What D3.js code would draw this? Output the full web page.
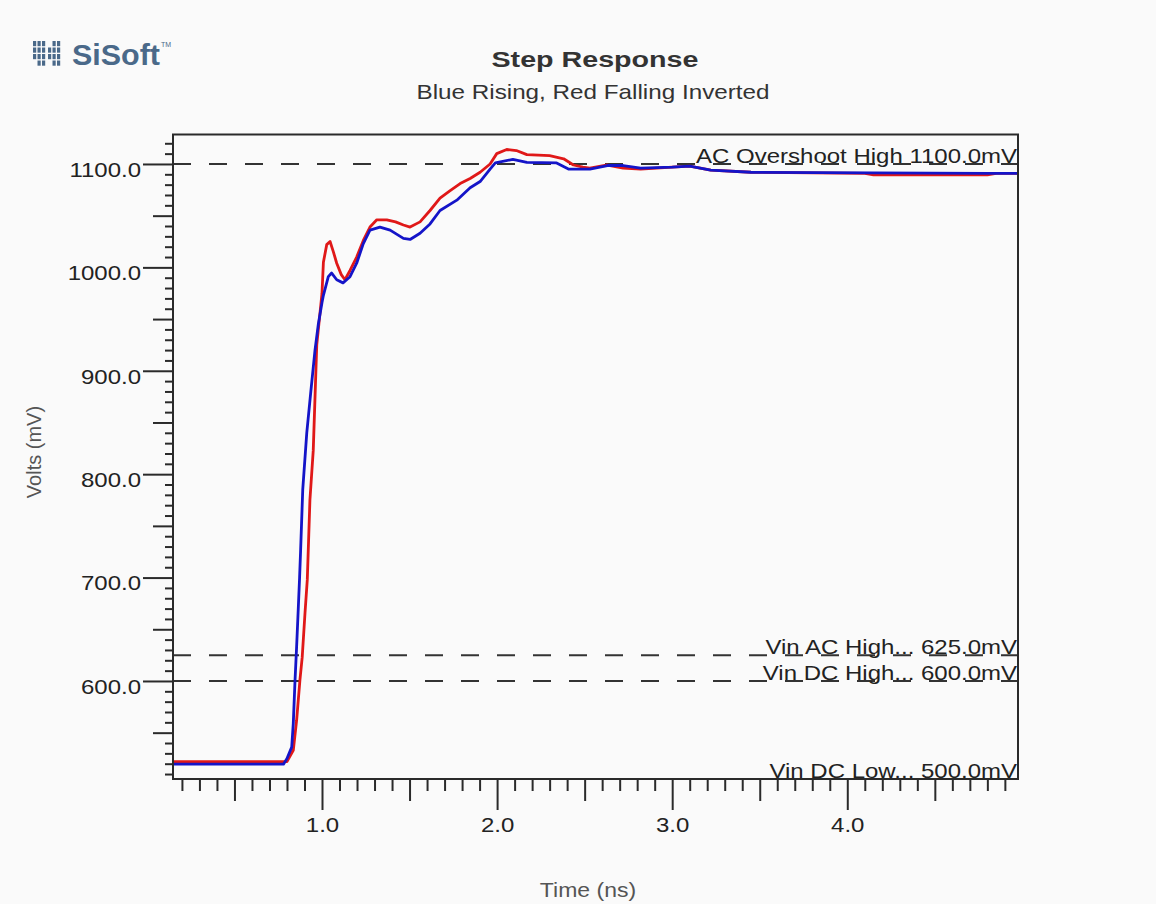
<!DOCTYPE html>
<html>
<head>
<meta charset="utf-8">
<script src="https://cdn.jsdelivr.net/npm/d3@7"></script>
<style>
	body { margin: 0; background: #fafafa; }
	svg { display: block; font-family: "Liberation Sans", Arial, sans-serif; }
</style>
</head>
<body>
<svg id="chart" width="1156" height="904"></svg>
<script>

// red trace (falling, inverted)
var aRedTime = [0.149, 0.74, 0.80, 0.836, 0.855, 0.874, 0.887, 0.903, 0.916, 0.931, 0.95, 0.97, 0.985, 1.0, 1.008, 1.027, 1.046, 1.065, 1.084, 1.11, 1.131, 1.16, 1.198, 1.236, 1.274, 1.313, 1.37, 1.42, 1.465, 1.503, 1.56, 1.617, 1.674, 1.73, 1.789, 1.846, 1.903, 1.96, 1.998, 2.055, 2.11, 2.17, 2.30, 2.38, 2.436, 2.49, 2.53, 2.63, 2.72, 2.82, 3.0, 3.1, 3.22, 3.45, 4.1, 4.15, 4.8, 4.85, 4.975];
var aRedMv   = [522, 522, 522, 533, 562, 601, 623, 666, 698, 775, 823, 925, 950, 975, 1005, 1022, 1025, 1015, 1004, 993, 988, 997, 1010, 1026, 1039, 1046, 1046, 1044, 1041, 1039, 1044, 1055, 1067, 1074, 1081, 1086, 1092, 1100, 1110, 1114, 1113, 1109, 1108, 1105, 1099, 1097, 1096, 1099, 1096, 1095, 1097, 1098, 1094, 1092, 1091, 1089.5, 1089.5, 1091, 1091];

// blue trace (rising)
var aBlueTime = [0.149, 0.78, 0.80, 0.827, 0.836, 0.846, 0.855, 0.865, 0.872, 0.878, 0.89, 0.913, 0.935, 0.96, 0.979, 1.0, 1.008, 1.036, 1.055, 1.084, 1.12, 1.16, 1.198, 1.236, 1.274, 1.331, 1.389, 1.465, 1.503, 1.56, 1.617, 1.674, 1.77, 1.846, 1.903, 1.96, 1.99, 2.09, 2.17, 2.34, 2.41, 2.53, 2.63, 2.72, 2.82, 3.0, 3.1, 3.22, 3.45, 4.8, 4.975];
var aBlueMv   = [519.5, 519.5, 525, 536, 559, 601, 633, 672, 700, 727, 785, 840, 878, 920, 945, 966, 973, 991, 994.5, 988, 985, 991, 1004, 1023, 1036, 1039, 1036, 1028, 1027, 1033, 1042, 1055, 1065, 1077, 1083, 1095, 1101, 1104.5, 1101.5, 1101, 1095, 1095, 1098.5, 1098.5, 1096, 1097, 1098, 1094, 1092, 1091, 1091];

// axes
var aXDomain = [0.149, 4.975];
var aYDomain = [505.2, 1128.5];
var aXMajor = [1.0, 2.0, 3.0, 4.0];
var aYMajor = [600, 700, 800, 900, 1000, 1100];

// reference levels
var aRefValues = [1100, 625, 600, 500];
var aRefLabels = ['AC Overshoot High 1100.0mV', 'Vin AC High... 625.0mV', 'Vin DC High... 600.0mV', 'Vin DC Low... 500.0mV'];

const strTitle = 'Step Response';
const strSubtitle = 'Blue Rising, Red Falling Inverted';


var sSvg = d3.select('#chart');

var nLeft = 173;
var nRight = 1018;
var nTop = 134.5;
var nBottom = 779;
var nChartWidth = nRight - nLeft;
var nChartHeight = nBottom - nTop;

// the original picture has its text a little wider than normal
const fStretch = 1.2;

function Stretch(sText, fK)
{
	sText.each(function()
		{
			var s = d3.select(this);
			var nX = +s.attr('x') || 0;
			s.attr('x', nX / fK)
				.attr('transform', 'scale(' + fK + ',1)');
		});
}

sSvg.append('rect')
	.attr('width', 1156)
	.attr('height', 904)
	.attr('fill', '#fafafa');

// logo
var sLogo = sSvg.append('g')
	.attr('fill', '#4a6989');

var aLogoCols = [33, 37.5, 42, 48, 52.5, 57];
var aLogoRows = [41, 47.5, 54, 60.5];
aLogoCols.forEach(function(nX, i)
	{
		aLogoRows.forEach(function(nY, j)
			{
				if ((i == 3 && (j == 0 || j == 3)) || (i == 0 && j == 3))
				{
					return;
				}
				sLogo.append('rect')
					.attr('x', nX)
					.attr('y', nY)
					.attr('width', 3.2)
					.attr('height', 5.2);
			});
	});

sLogo.append('text')
	.attr('x', 72)
	.attr('y', 65)
	.attr('font-size', 30)
	.attr('font-weight', 'bold')
	.attr('textLength', 88)
	.attr('lengthAdjust', 'spacingAndGlyphs')
	.text('SiSoft');

sLogo.append('text')
	.attr('x', 161)
	.attr('y', 47)
	.attr('font-size', 7)
	.text('TM');

// titles
sSvg.append('text')
	.attr('x', 595)
	.attr('y', 67)
	.attr('text-anchor', 'middle')
	.attr('font-size', 22)
	.attr('font-weight', 'bold')
	.attr('fill', '#333')
	.attr('textLength', 207)
	.attr('lengthAdjust', 'spacingAndGlyphs')
	.text(strTitle);

sSvg.append('text')
	.attr('x', 593)
	.attr('y', 99)
	.attr('text-anchor', 'middle')
	.attr('font-size', 21)
	.attr('fill', '#333')
	.attr('textLength', 353)
	.attr('lengthAdjust', 'spacingAndGlyphs')
	.text(strSubtitle);


var scaleX = d3.scaleLinear()
	.domain(aXDomain)
	.range([0, nChartWidth]);

var scaleY = d3.scaleLinear()
	.domain(aYDomain)
	.range([nChartHeight, 0]);

var sChart = sSvg.append('g')
	.attr('transform', 'translate(' + nLeft + ',' + nTop + ')');


// y axis: minor, mid and major ticks
var aYMinor = d3.range(510, 1121, 10).filter(function(v) { return v % 50 != 0; });
var aYMid = d3.range(550, 1101, 100);

sChart.append('g')
	.call(d3.axisLeft(scaleY).tickValues(aYMinor).tickSize(8).tickFormat(''));
sChart.append('g')
	.call(d3.axisLeft(scaleY).tickValues(aYMid).tickSize(20).tickFormat(''));
var sAxisY = sChart.append('g')
	.call(d3.axisLeft(scaleY).tickValues(aYMajor).tickSize(30).tickPadding(2).tickFormat(d3.format('.1f')));

sAxisY.selectAll('text')
	.attr('font-size', 20)
	.attr('font-family', '"Liberation Sans", Arial, sans-serif')
	.attr('fill', '#222')
	.attr('dy', '0.62em')
	.call(Stretch, fStretch);

// x axis
var aXMinor = d3.range(2, 50, 1).map(function(v) { return v / 10; }).filter(function(v) { return Math.round(v * 10) % 5 != 0; });
var aXMid = [0.5, 1.5, 2.5, 3.5, 4.5];

sChart.append('g')
	.attr('transform', 'translate(0,' + nChartHeight + ')')
	.call(d3.axisBottom(scaleX).tickValues(aXMinor).tickSize(12).tickFormat(''));
sChart.append('g')
	.attr('transform', 'translate(0,' + nChartHeight + ')')
	.call(d3.axisBottom(scaleX).tickValues(aXMid).tickSize(22).tickFormat(''));
var sAxisX = sChart.append('g')
	.attr('transform', 'translate(0,' + nChartHeight + ')')
	.call(d3.axisBottom(scaleX).tickValues(aXMajor).tickSize(31).tickPadding(8).tickFormat(d3.format('.1f')));

sAxisX.selectAll('text')
	.attr('font-size', 20)
	.attr('font-family', '"Liberation Sans", Arial, sans-serif')
	.attr('fill', '#222')
	.call(Stretch, fStretch);

sChart.selectAll('.domain').remove();
sChart.selectAll('.tick line')
	.attr('stroke', '#2a2a2a')
	.attr('stroke-width', 2);


// reference levels
var aRefs = aRefValues.map(function(v, i)
	{
		return { value: v, label: aRefLabels[i] };
	});

var sRefs = sChart.append('g');

sRefs.selectAll('line')
	.data(aRefs.filter(function(r) { return r.value >= aYDomain[0]; }))
	.enter()
		.append('line')
			.attr('x1', 0)
			.attr('x2', nChartWidth)
			.attr('y1', function(r) { return scaleY(r.value); })
			.attr('y2', function(r) { return scaleY(r.value); })
			.attr('stroke', '#333')
			.attr('stroke-width', 2)
			.attr('stroke-dasharray', '18,18');

sRefs.selectAll('text')
	.data(aRefs)
	.enter()
		.append('text')
			.attr('x', nChartWidth - 1)
			.attr('y', function(r)
				{
					return Math.min(scaleY(r.value), nChartHeight) - 1;
				})
			.attr('text-anchor', 'end')
			.attr('font-size', 20)
			.attr('fill', '#222')
			.text(function(r) { return r.label; })
			.call(Stretch, fStretch);


// traces
var lineTrace = d3.line()
	.x(function(d) { return scaleX(d[0]); })
	.y(function(d) { return scaleY(d[1]); });

var aRed = aRedTime.map(function(t, i) { return [t, aRedMv[i]]; });
var aBlue = aBlueTime.map(function(t, i) { return [t, aBlueMv[i]]; });

sChart.append('path')
	.datum(aRed)
	.attr('d', lineTrace)
	.attr('fill', 'none')
	.attr('stroke', '#e01818')
	.attr('stroke-width', 2.8)
	.attr('stroke-linejoin', 'round');

sChart.append('path')
	.datum(aBlue)
	.attr('d', lineTrace)
	.attr('fill', 'none')
	.attr('stroke', '#1414c8')
	.attr('stroke-width', 2.8)
	.attr('stroke-linejoin', 'round');


// frame
sChart.append('rect')
	.attr('width', nChartWidth)
	.attr('height', nChartHeight)
	.attr('fill', 'none')
	.attr('stroke', '#2a2a2a')
	.attr('stroke-width', 2);


// axis titles
sSvg.append('text')
	.attr('x', 0)
	.attr('y', 0)
	.attr('transform', 'translate(41,452) rotate(-90)')
	.attr('text-anchor', 'middle')
	.attr('font-size', 20)
	.attr('fill', '#555')
	.text('Volts (mV)');

sSvg.append('text')
	.attr('x', 588)
	.attr('y', 897)
	.attr('text-anchor', 'middle')
	.attr('font-size', 20)
	.attr('fill', '#555')
	.text('Time (ns)')
	.call(Stretch, 1.15);

</script>
</body>
</html>
